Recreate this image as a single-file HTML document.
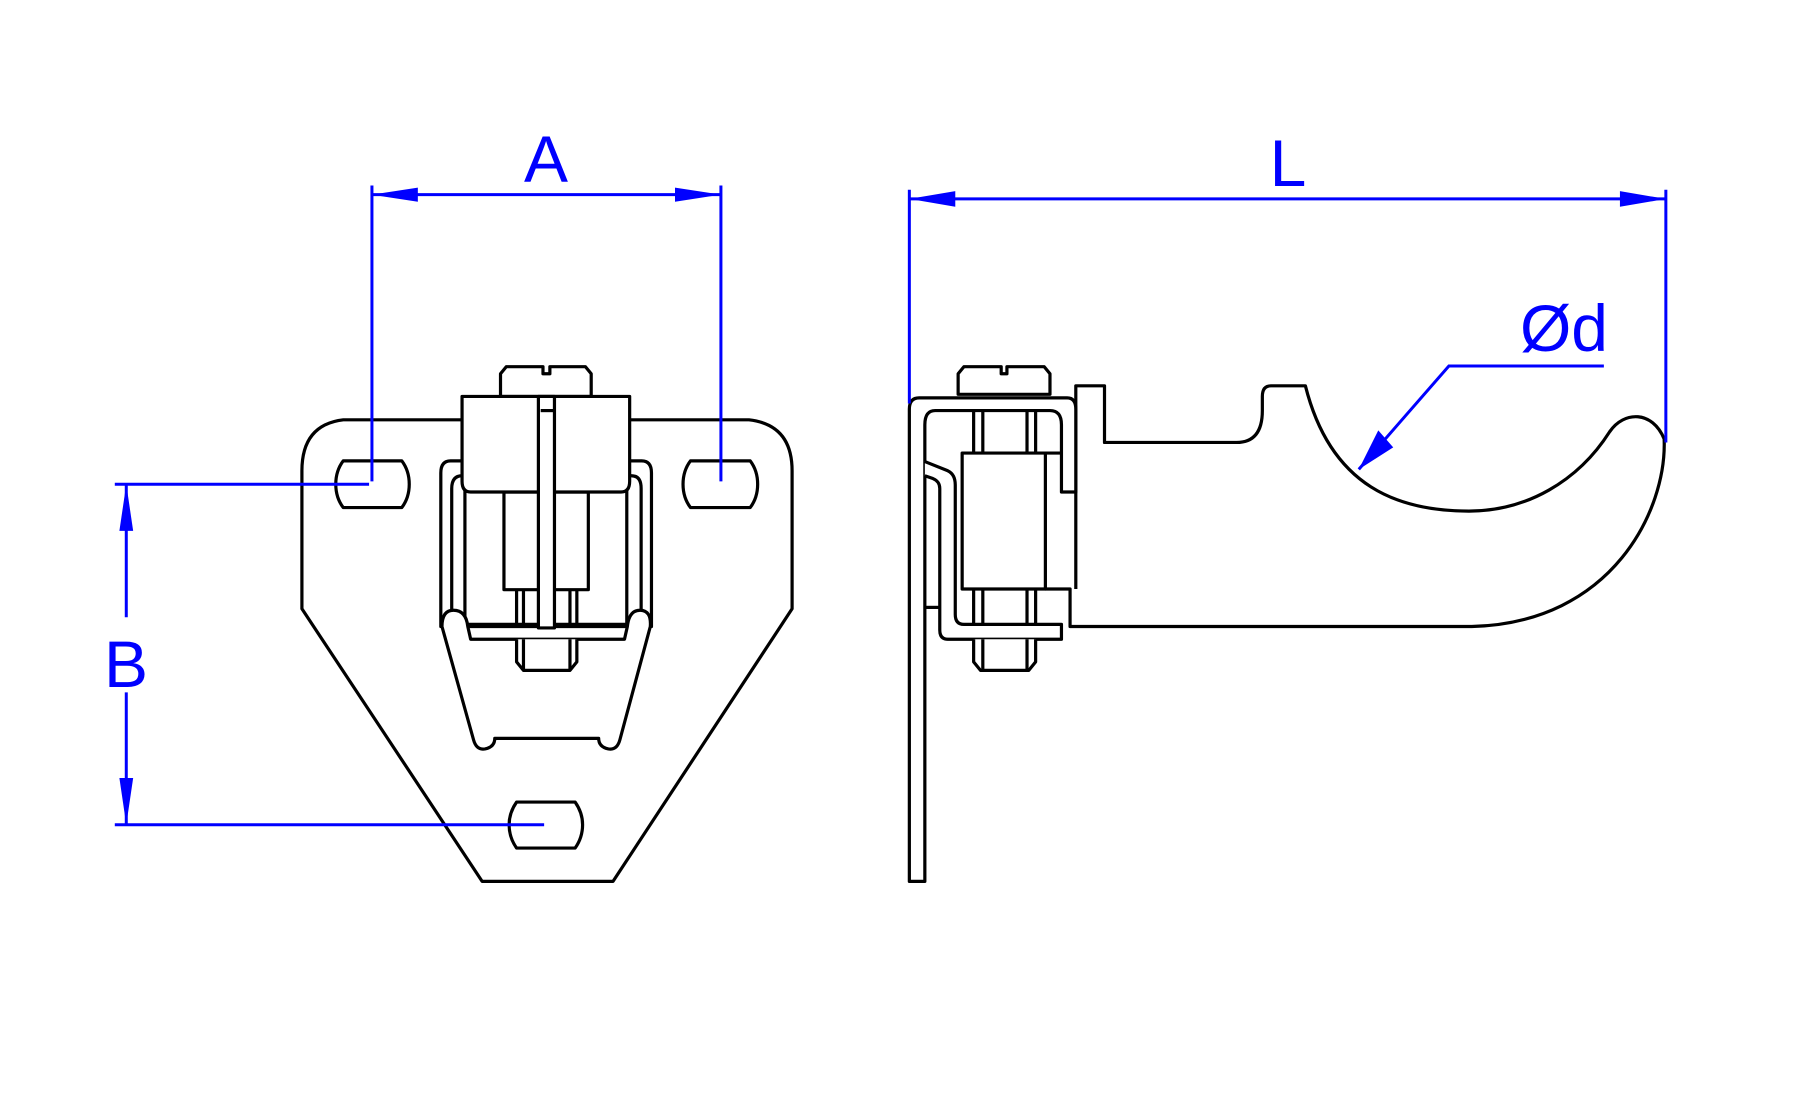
<!DOCTYPE html>
<html><head><meta charset="utf-8"><style>
html,body{margin:0;padding:0;background:#fff;}
svg{display:block;}
.k{fill:none;stroke:#000;stroke-width:3.2;vector-effect:non-scaling-stroke;stroke-linejoin:round;}
.kw{fill:#fff;stroke:#000;stroke-width:3.2;vector-effect:non-scaling-stroke;stroke-linejoin:round;}
.b{fill:none;stroke:#0000ff;stroke-width:3;vector-effect:non-scaling-stroke;}
.ba{fill:#0000ff;stroke:none;}
text{font-family:"Liberation Sans",sans-serif;fill:#0000ff;font-size:66px;}
</style></head><body>
<svg width="1795" height="1110" viewBox="0 0 1795 1110" xmlns="http://www.w3.org/2000/svg">
<rect width="1795" height="1110" fill="#fff"/>
<!-- LEFT VIEW -->
<svg x="0" y="0" width="900" height="1110" viewBox="0 0 1568 1568" preserveAspectRatio="none">
 <path class="k" d="M598,593 H1305 Q1380,600 1380,665 V860 L1068,1245 H840 L526,860 V665 Q526,600 598,593 Z"/>
 <path class="k" d="M598,651 H700 Q713,665 713,684 Q713,703 700,717 H598 Q585,703 585,684 Q585,665 598,651 Z"/>
 <path class="k" d="M1203,651 H1307 Q1320,665 1320,684 Q1320,703 1307,717 H1203 Q1190,703 1190,684 Q1190,665 1203,651 Z"/>
 <path class="k" d="M900,1133 H1002 Q1015,1148 1015,1165 Q1015,1183 1002,1198 H900 Q887,1183 887,1165 Q887,1148 900,1133 Z"/>
 <path class="kw" d="M768,885 V668 Q768,651 785,651 H1118 Q1135,651 1135,668 V885 Z"/>
 <path class="k" d="M787,885 V690 Q787,672 805,672 H1100 Q1117,672 1117,690 V885"/>
 <path class="k" d="M810,690 V885 M1092,690 V885"/>
 <path class="kw" d="M770,885 Q770,862 790,862 Q812,862 815,885 L820,903 H1088 L1093,885 Q1096,862 1115,862 Q1135,862 1133,885 L1080,1045 Q1075,1060 1060,1058 Q1043,1055 1043,1043 H862 Q862,1055 845,1058 Q830,1060 825,1045 Z"/>
 <path class="k" d="M815,882 H1092"/>
 <path class="kw" d="M900,903 V935 L912,947 H993 L1005,935 V903"/>
 <path class="k" d="M912,903 V947 M993,903 V947"/>
 <path class="k" d="M900,833 V882 M912,833 V882 M993,833 V882 M1005,833 V882"/>
 <rect class="kw" x="878" y="695" width="147" height="138"/>
 <path class="kw" d="M872,560 V528 L882,518 H946 V528 H958 V518 H1020 L1030,528 V560 Z"/>
 <path class="kw" d="M805,560 H1097 V680 Q1097,695 1082,695 H820 Q805,695 805,680 Z"/>
 <rect class="kw" x="938" y="560" width="28" height="327"/>
 <path class="k" d="M942,580 H966"/>
 <path class="b" d="M648,262 V680 M1256,262 V680 M648,275 H1256"/>
 <polygon class="ba" points="648,275 728,265 728,285"/>
 <polygon class="ba" points="1256,275 1176,265 1176,285"/>
 <path class="b" d="M200,684 H643 M200,1165 H948 M220,684 V872 M220,978 V1165"/>
 <polygon class="ba" points="220,684 208,750 232,750"/>
 <polygon class="ba" points="220,1165 208,1099 232,1099"/>
</svg>
<!-- RIGHT VIEW -->
<svg x="895" y="0" width="900" height="1110" viewBox="0 0 1568 1568" preserveAspectRatio="none">
 <path class="kw" d="M262,832 H305 V885 H1005 C1250,880 1345,720 1340,620 C1320,580 1270,580 1245,610 C1190,680 1100,722 1000,722 C880,722 760,690 715,545 H655 Q640,545 640,560 V580 Q640,625 595,625 H365 V545 H315 V832"/>
 <path class="kw" d="M25,1245 V578 Q25,562 42,562 H300 Q315,562 315,578 V695 H290 V600 Q290,580 270,580 H70 Q52,580 52,600 V1245 Z"/>
 <path class="kw" d="M52,652 L92,665 Q105,670 105,685 V868 Q105,882 120,882 H290 V903 H92 Q78,903 78,890 V690 Q78,680 66,676 L52,672"/>
 <path class="k" d="M52,858 H78"/>
 <path class="k" d="M137,580 V640 M153,580 V640 M230,580 V640 M245,580 V640"/>
 <path class="k" d="M137,832 V882 M153,832 V882 M230,832 V882 M245,832 V882"/>
 <path class="kw" d="M137,903 V935 L149,947 H233 L245,935 V903"/>
 <path class="k" d="M153,903 V947 M230,903 V947"/>
 <rect class="kw" x="117" y="640" width="145" height="192"/>
 <path class="k" d="M262,640 H290"/>
 <path class="kw" d="M110,557 V528 L120,518 H185 V528 H195 V518 H260 L270,528 V557 Z"/>
 <path class="b" d="M25,268 V570 M1343,268 V625 M25,281 H1343"/>
 <polygon class="ba" points="25,281 105,270 105,292"/>
 <polygon class="ba" points="1343,281 1263,270 1263,292"/>
 <path class="b" d="M1235,517 H965 L808,663"/>
 <polygon class="ba" points="808,663 842,608 868,632"/>
</svg>
<text x="546" y="182" text-anchor="middle">A</text>
<text x="126" y="687" text-anchor="middle">B</text>
<text x="1288" y="186" text-anchor="middle">L</text>
<text x="1564" y="351" text-anchor="middle">Ød</text>
</svg>
</body></html>
